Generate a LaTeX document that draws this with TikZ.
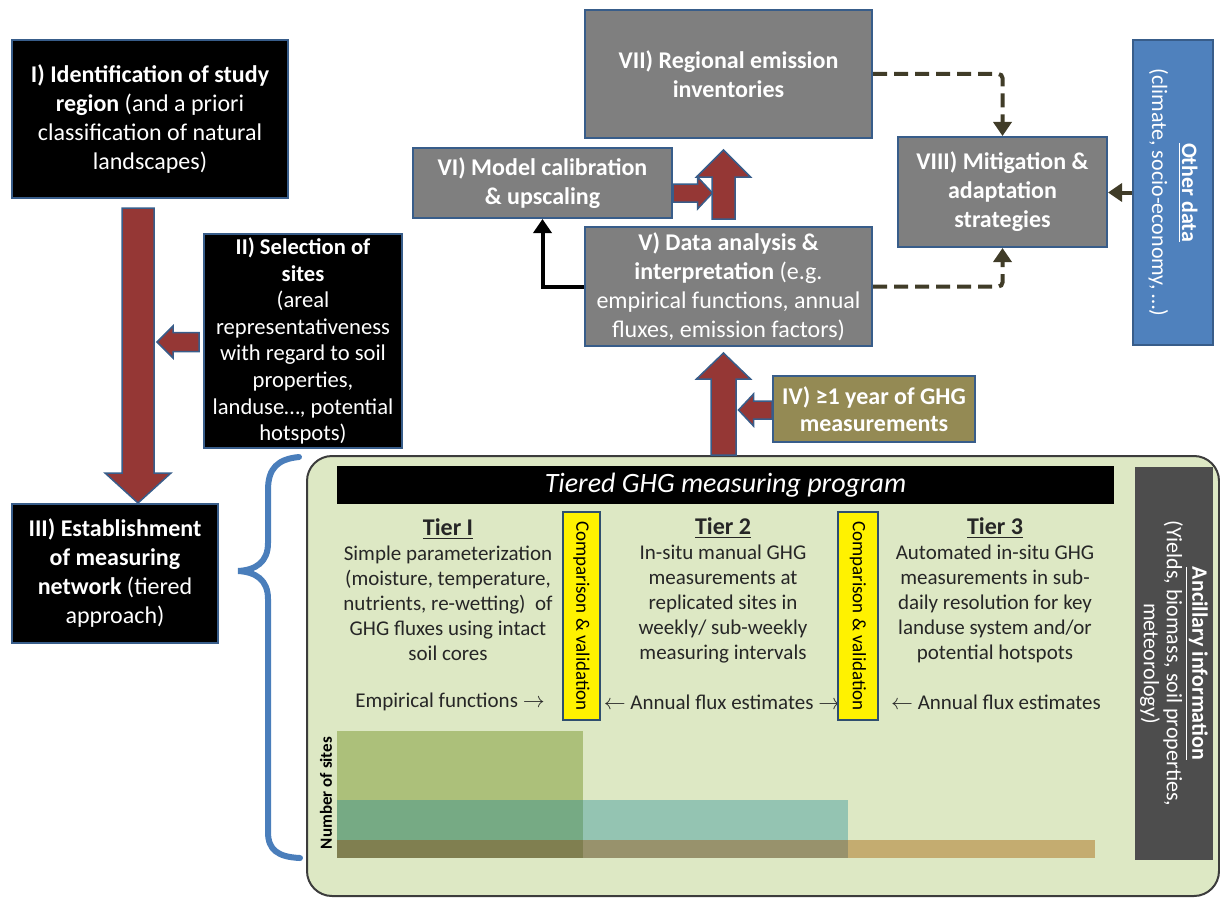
\documentclass[tikz,border=0pt]{standalone}
\usepackage{fontspec}
\setmainfont{Carlito}
\usetikzlibrary{arrows.meta,calc}

\definecolor{boxblue}{RGB}{56,93,138}
\definecolor{boxgray}{RGB}{127,127,127}
\definecolor{arrred}{RGB}{149,55,53}
\definecolor{dashbrown}{RGB}{64,60,40}
\definecolor{panelgreen}{RGB}{221,232,196}
\definecolor{panelline}{RGB}{60,60,60}
\definecolor{bracecol}{RGB}{74,126,187}
\definecolor{otherblue}{RGB}{79,129,189}
\definecolor{olivebox}{RGB}{148,138,84}
\definecolor{ancgray}{RGB}{77,77,77}
\definecolor{tiertext}{RGB}{38,38,38}
\definecolor{yellowbd}{RGB}{47,79,111}
\definecolor{barone}{RGB}{172,192,122}
\definecolor{bartwo}{RGB}{118,170,132}
\definecolor{barthree}{RGB}{148,196,178}
\definecolor{barfour}{RGB}{128,127,80}
\definecolor{barfive}{RGB}{152,146,108}
\definecolor{barsix}{RGB}{196,172,112}

\tikzset{
  box/.style={draw=boxblue, line width=1pt, align=center, text=white, inner sep=2pt,
    font=\fontsize{12}{14.5}\selectfont},
  blackbox/.style={box, fill=black},
  graybox/.style={box, fill=boxgray},
  tiertxt/.style={align=center, text=tiertext, font=\fontsize{10.5}{12.5}\selectfont},
  cvbox/.style={draw=yellowbd, line width=1pt, fill=yellow, rotate=-90, inner sep=1pt,
    minimum width=104pt, font=\fontsize{9.5}{11}\selectfont},
  % fat arrow: shaft half width, head half width, head length
  fat/.style n args={3}{to path={
    ($(\tikztostart)!#1!90:(\tikztotarget)$)
    -- ($(\tikztotarget)!#3!(\tikztostart)!#1!90:(\tikztotarget)$)
    -- ($(\tikztotarget)!#3!(\tikztostart)!#2!90:(\tikztotarget)$)
    -- (\tikztotarget)
    -- ($(\tikztotarget)!#3!(\tikztostart)!#2!-90:(\tikztotarget)$)
    -- ($(\tikztotarget)!#3!(\tikztostart)!#1!-90:(\tikztotarget)$)
    -- ($(\tikztostart)!#1!-90:(\tikztotarget)$) -- cycle}},
  fatred/.style={fill=arrred, draw=boxblue, line width=0.75pt, line join=miter},
  dasharr/.style={draw=dashbrown, line width=2pt, dash pattern=on 7pt off 3.5pt,
    rounded corners=2pt, -{Triangle[length=7pt,width=9pt]}},
  solidarr/.style={draw=dashbrown, line width=2pt, -{Triangle[length=7pt,width=9pt]}},
  blkarr/.style={draw=black, line width=2pt, -{Triangle[length=7pt,width=9pt]}},
}

\begin{document}
\begin{tikzpicture}[x=0.5pt, y=-0.5pt]
\useasboundingbox (0,0) rectangle (1220,899);

% left column
\node[blackbox, minimum width=138pt, minimum height=79pt] (I) at (150,119)
  {\textbf{I) Identification of study}\\\textbf{region} (and a priori\\classification of natural\\landscapes)};
\node[blackbox, minimum width=99pt, minimum height=104pt, font=\fontsize{11.3}{13.3}\selectfont] (II) at (303,341)
  {\textbf{II) Selection of}\\\textbf{sites}\\(areal\\representativeness\\with regard to soil\\properties,\\landuse\ldots, potential\\hotspots)};
\node[blackbox, minimum width=103pt, minimum height=69.5pt] (III) at (115,573.5)
  {\textbf{III) Establishment}\\\textbf{of measuring}\\\textbf{network} (tiered\\approach)};

% upper right
\node[graybox, minimum width=143.5pt, minimum height=64pt] (VII) at (728.5,74)
  {\textbf{VII) Regional emission}\\\textbf{inventories}};
\node[graybox, minimum width=129.5pt, minimum height=35pt] (VI) at (542.5,183)
  {\textbf{VI) Model calibration}\\\textbf{\& upscaling}};
\node[graybox, minimum width=143.5pt, minimum height=59.5pt] (V) at (728.5,286.5)
  {\textbf{V) Data analysis \&}\\\textbf{interpretation} (e.g.\\empirical functions, annual\\fluxes, emission factors)};
\node[graybox, minimum width=104.5pt, minimum height=55pt] (VIII) at (1002.5,192)
  {\textbf{VIII) Mitigation \&}\\\textbf{adaptation}\\\textbf{strategies}};
\node[box, fill=otherblue, rotate=-90, minimum width=152.5pt, minimum height=40pt,
  font=\fontsize{11}{15}\selectfont] (other) at (1173,192.5)
  {\underline{\textbf{Other data}}\\(climate, socio-economy, \ldots)};
\node[box, fill=olivebox, minimum width=101pt, minimum height=33pt, font=\fontsize{12}{13.5}\selectfont] (IV) at (874,409)
  {\textbf{IV) ≥1 year of GHG}\\\textbf{measurements}};

% measuring program panel
\node[draw=panelline, line width=1pt, fill=panelgreen, rounded corners=12.5pt,
  minimum width=456pt, minimum height=220pt] (panel) at (763,676) {};
\node[fill=black, text=white, minimum width=388.5pt, minimum height=19pt, inner sep=0pt,
  font=\itshape\fontsize{14}{16}\selectfont] (title) at (725.5,485) {Tiered GHG measuring program};

\node[tiertxt] (tier1) at (448,590)
  {{\bfseries\fontsize{12}{14}\selectfont\underline{Tier I}}\\Simple parameterization\\(moisture, temperature,\\nutrients, re-wetting)~ of\\GHG fluxes using intact\\soil cores};
\node[tiertxt] (tier2) at (723,590)
  {{\bfseries\fontsize{12}{14}\selectfont\underline{Tier 2}}\\In-situ manual GHG\\measurements at\\replicated sites in\\weekly/ sub-weekly\\measuring intervals};
\node[tiertxt] (tier3) at (995,590)
  {{\bfseries\fontsize{12}{14}\selectfont\underline{Tier 3}}\\Automated in-situ GHG\\measurements in sub-\\daily resolution for key\\landuse system and/or\\potential hotspots};

\node[tiertxt] (flux1) at (450,702) {Empirical functions $\rightarrow$};
\node[tiertxt] (flux2) at (722,702) {$\leftarrow$ Annual flux estimates $\rightarrow$};
\node[tiertxt] (flux3) at (996,702) {$\leftarrow$ Annual flux estimates};

\node[cvbox, minimum height=18.5pt] (cv1) at (581.5,616) {Comparison \& validation};
\node[cvbox, minimum height=20pt] (cv2) at (858,616) {Comparison \& validation};

\node[fill=ancgray, text=white, rotate=-90, align=center, inner sep=0pt,
  minimum width=196.5pt, minimum height=39pt, font=\fontsize{11}{11.5}\selectfont] (anc) at (1174,663.5)
  {\underline{\textbf{Ancillary information}}\\(Yields, biomass, soil properties,\\meteorology)};

% number of sites
\foreach \xa/\ya/\xb/\yb/\col in {337/731/583/800/barone, 337/800/583/840/bartwo,
    583/800/848/840/barthree, 337/840/583/858/barfour, 583/840/848/858/barfive,
    848/840/1095/858/barsix}
  \fill[\col] (\xa,\ya) rectangle (\xb,\yb);
\node[rotate=90, font=\bfseries\fontsize{8.5}{9}\selectfont] (nsites) at (326,793) {Number of sites};

% brace
\draw[bracecol, line width=3pt, line cap=round] (299,457) .. controls (278,459) and (268,468) .. (268,490)
  -- (268,543) .. controls (268,562) and (256,570) .. (238,571)
  .. controls (256,572) and (268,580) .. (268,599) -- (268,832)
  .. controls (268,850) and (278,857) .. (300,858);

% fat arrows
\coordinate (a1s) at ($(I.south)+(-12,9)$);
\coordinate (a1t) at ($(I.south |- III.north)+(-12,0)$);
\coordinate (a2s) at ($(II.west)+(-4,1)$);
\coordinate (a2t) at ($(I.south |- II.west)+(7,1)$);
\coordinate (a3s) at ($(V.north)+(-5,-7)$);
\coordinate (a3t) at ($(VII.south)+(-5,11)$);
\coordinate (a4s) at ($(VI.east)+(0,10)$);
\coordinate (a4t) at ($(VI.east -| a3s)+(-11,10)$);
\coordinate (a5s) at (panel.north -| a3s);
\coordinate (a5t) at ($(V.south)+(-5,6)$);
\coordinate (a6s) at ($(IV.west)+(0,1)$);
\coordinate (a6t) at ($(IV.west -| a5s)+(15,1)$);
\path[fatred, fat={8pt}{16.5pt}{15pt}] (a1s) to (a1t);
\path[fatred, fat={4.75pt}{8pt}{8pt}] (a2s) to (a2t);
\path[fatred, fat={5.75pt}{13.5pt}{13.5pt}] (a3s) to (a3t);
\path[fatred, fat={4.5pt}{8pt}{7.5pt}] (a4s) to (a4t);
\path[fatred, fat={6.25pt}{13.5pt}{13pt}] (a5s) to (a5t);
\path[fatred, fat={4.5pt}{8pt}{7.5pt}] (a6s) to (a6t);

% line connectors
\draw[dasharr] (VII.east) -| (VIII.north);
\draw[dasharr] (V.east) -| (VIII.south);
\draw[solidarr] (other.south) -- (other.south -| VIII.east);
\draw[blkarr] (V.west) -| (VI.south);
\end{tikzpicture}
\end{document}
